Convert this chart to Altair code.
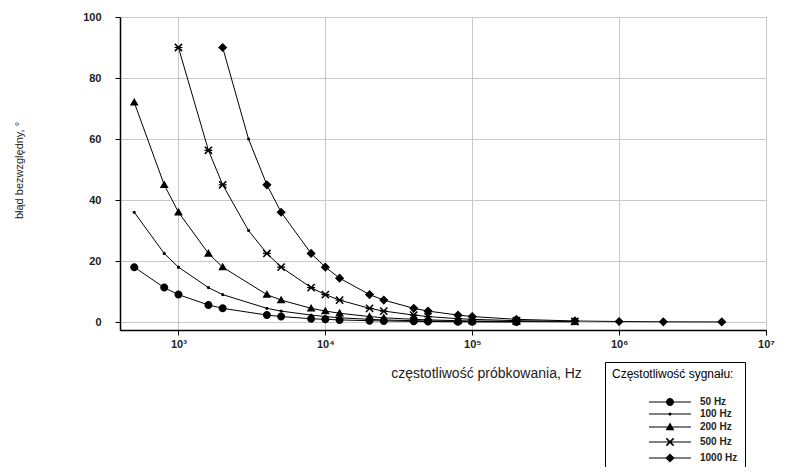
import altair as alt
import pandas as pd

series_names = ["50 Hz", "100 Hz", "200 Hz", "500 Hz", "1000 Hz"]

fs_50 = [500, 800, 1000, 1600, 2000, 4000, 5000, 8000, 10000, 12500, 20000, 25000, 40000, 50000, 80000, 100000, 200000]
err_50 = [18, 11.3, 9, 5.6, 4.5, 2.3, 1.8, 1.1, 0.9, 0.7, 0.45, 0.36, 0.23, 0.18, 0.11, 0.09, 0.05]

fs_100 = [500, 800, 1000, 1600, 2000, 4000, 5000, 8000, 10000, 12500, 20000, 25000, 40000, 50000, 80000, 100000, 200000]
err_100 = [36, 22.5, 18, 11.3, 9, 4.5, 3.6, 2.3, 1.8, 1.4, 0.9, 0.7, 0.45, 0.36, 0.23, 0.18, 0.09]

fs_200 = [500, 800, 1000, 1600, 2000, 4000, 5000, 8000, 10000, 12500, 20000, 25000, 40000, 50000, 80000, 100000, 200000, 500000]
err_200 = [72, 45, 36, 22.5, 18, 9, 7.2, 4.5, 3.6, 2.9, 1.8, 1.4, 0.9, 0.72, 0.45, 0.36, 0.18, 0.07]

fs_500 = [1000, 1600, 2000, 3000, 4000, 5000, 8000, 10000, 12500, 20000, 25000, 40000, 50000, 80000, 100000, 200000, 500000]
err_500 = [90, 56.3, 45, 30, 22.5, 18, 11.3, 9, 7.2, 4.5, 3.6, 2.3, 1.8, 1.1, 0.9, 0.45, 0.18]

fs_1000 = [2000, 3000, 4000, 5000, 8000, 10000, 12500, 20000, 25000, 40000, 50000, 80000, 100000, 200000, 500000, 1000000, 2000000, 5000000]
err_1000 = [90, 60, 45, 36, 22.5, 18, 14.4, 9, 7.2, 4.5, 3.6, 2.3, 1.8, 0.9, 0.36, 0.18, 0.09, 0.04]

x_ticks = [1e3, 1e4, 1e5, 1e6, 1e7]
y_ticks = [0, 20, 40, 60, 80, 100]

rows = []
for name, fs, err in zip(series_names,
                         [fs_50, fs_100, fs_200, fs_500, fs_1000],
                         [err_50, err_100, err_200, err_500, err_1000]):
    for f, e in zip(fs, err):
        rows.append({"series": name, "fs": f, "err": e})
df = pd.DataFrame(rows)

FONT = "Liberation Sans"

x_enc = alt.X(
    "fs:Q",
    scale=alt.Scale(type="log", domain=[400, 1e7], nice=False),
    axis=alt.Axis(
        values=x_ticks,
        labelExpr="'10' + ['⁰','¹','²','³','⁴','⁵','⁶','⁷'][round(log(datum.value)/LN10)]",
        labelFlush=False,
        labelFontSize=11,
        labelFontWeight="bold",
        labelColor="#222",
        labelPadding=3,
        tickSize=5,
        tickColor="black",
        domainColor="black",
        domainWidth=1.5,
        grid=True,
        gridColor="#c8c8c8",
        title="częstotliwość próbkowania, Hz",
        titleFontSize=14,
        titleFontWeight="normal",
        titleColor="#222",
        titleX=366,
        titleY=47,
        titleAlign="center",
        titleBaseline="alphabetic",
    ),
)
y_enc = alt.Y(
    "err:Q",
    scale=alt.Scale(domain=[-2.6, 100], nice=False, zero=False),
    axis=alt.Axis(
        values=y_ticks,
        labelFontSize=11,
        labelFontWeight="bold",
        labelColor="#222",
        labelPadding=14,
        tickSize=5,
        tickColor="black",
        domainColor="black",
        domainWidth=1.5,
        grid=True,
        gridColor="#c8c8c8",
        title="błąd bezwzględny, °",
        titleFontSize=11,
        titleFontWeight="normal",
        titleColor="#222",
        titleAngle=270,
        titleX=-101,
        titleY=153,
        titleAlign="center",
        titleBaseline="middle",
    ),
)

# marker outlines (filled paths, unit = sqrt(size)/2 px)
circle = "M1,0A1,1 0 1,1 -1,0A1,1 0 1,1 1,0Z"
dot = "M0.4,0A0.4,0.4 0 1,1 -0.4,0A0.4,0.4 0 1,1 0.4,0Z"
tri = "M0,-1.1L1.1,0.8L-1.1,0.8Z"
xstar = ("M-0.76,-1.04L1.04,0.76L0.76,1.04L-1.04,-0.76Z"
         "M-1.04,0.76L0.76,-1.04L1.04,-0.76L-0.76,1.04Z"
         "M-1,-0.15L1,-0.15L1,0.15L-1,0.15Z")
diamond = "M0,-1.15L1.15,0L0,1.15L-1.15,0Z"
point_shapes = [circle, dot, tri, xstar, diamond]

bar = "M-5.25,-0.13L5.25,-0.13L5.25,0.13L-5.25,0.13Z"
legend_shapes = [bar + s for s in point_shapes]

base = alt.Chart(df)

lines = base.mark_line(color="black", strokeWidth=1).encode(
    x=x_enc, y=y_enc, detail="series:N", order="fs:Q"
)

points = base.transform_filter("datum.fs != 3000").mark_point(
    filled=True, color="black", opacity=1, size=64
).encode(
    x=x_enc,
    y=y_enc,
    shape=alt.Shape("series:N", scale=alt.Scale(domain=series_names, range=point_shapes), legend=None),
)

dots = base.transform_filter("datum.fs == 3000").mark_circle(color="black", size=9, opacity=1).encode(
    x=x_enc, y=y_enc
)

legend_layer = base.transform_filter("false").mark_point(
    filled=True, color="black", opacity=1
).encode(
    x=x_enc,
    y=y_enc,
    shape=alt.Shape(
        "series:N",
        scale=alt.Scale(domain=series_names, range=legend_shapes),
        legend=alt.Legend(
            title="Częstotliwość sygnału:",
            orient="none",
            legendX=485,
            legendY=345,
            strokeColor="black",
            fillColor="white",
            padding=7,
            titleFontSize=12,
            titleFontWeight="normal",
            titleColor="black",
            titlePadding=16,
            labelFontSize=10,
            labelFontWeight="bold",
            labelColor="#222",
            symbolSize=64,
            symbolOffset=53,
            labelOffset=25,
            symbolFillColor="black",
            rowPadding=0,
        ),
    ),
)

chart = (
    alt.layer(lines, points, dots, legend_layer)
    .resolve_scale(shape="independent")
    .properties(
        width=646,
        height=313,
        autosize=alt.AutoSizeParams(type="none"),
        padding={"left": 112, "top": 9, "right": 32, "bottom": 137},
        background="white",
    )
    .configure(font=FONT)
    .configure_view(stroke="#555", strokeWidth=1)
)

chart.save("out.html", embed_options={"renderer": "svg", "actions": False})
